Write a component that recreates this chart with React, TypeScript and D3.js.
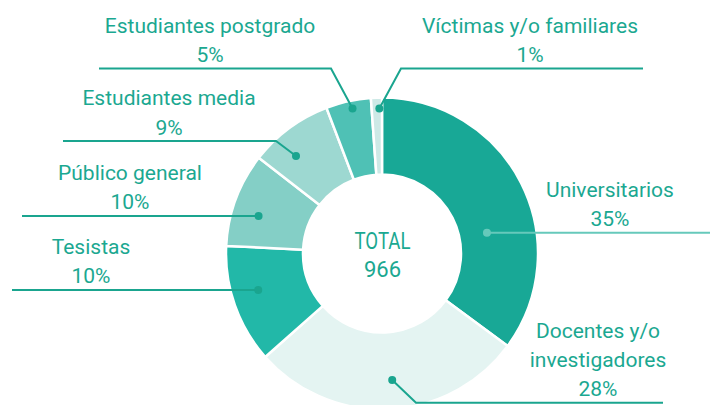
import React from "react";
import * as d3 from "d3";

const categories = [
  "Universitarios",
  "Docentes y/o investigadores",
  "Tesistas",
  "Público general",
  "Estudiantes media",
  "Estudiantes postgrado",
  "Víctimas y/o familiares",
];
const counts = [339, 274, 119, 94, 84, 45, 11];
const pctLabels = ["35%", "28%", "10%", "10%", "9%", "5%", "1%"];
const nameLines = [
  ["Universitarios"],
  ["Docentes y/o", "investigadores"],
  ["Tesistas"],
  ["Público general"],
  ["Estudiantes media"],
  ["Estudiantes postgrado"],
  ["Víctimas y/o familiares"],
];
const totalLabel = "966";

const colors = ["#18a896", "#e4f4f2", "#22b8a8", "#84cfc6", "#9dd8d1", "#4fc1b5", "#cde9e6"];
const textColor = "#1ba891";
const lineColor = "#1aa58f";

// layout per label: dot angle shift (deg), dot radius, elbow, line end, text center
const layout = [
  { shift: 15.6, r: 107, elbowY: null, endX: 710, textX: 610, color: "#66c9bb" },
  { shift: -2, r: 127, elbowY: 402.7, elbowX: 416, endX: 663, textX: 598, color: lineColor },
  { shift: 3, r: 129, elbowY: null, endX: 12, textX: 91, color: lineColor },
  { shift: -3.4, r: 129, elbowY: null, endX: 22, textX: 130, color: lineColor },
  { shift: -4.9, r: 130, elbowY: 141, elbowX: 276, endX: 63, textX: 169, color: lineColor },
  { shift: 1, r: 148, elbowY: 68.5, elbowX: 331, endX: 99, textX: 210, color: lineColor },
  { shift: 1, r: 145, elbowY: 68.5, elbowX: 401, endX: 643, textX: 530, color: lineColor },
];

export default function App() {
  const W = 710, H = 405;
  const cx = 382, cy = 253.5;
  const outerR = 156, innerR = 79;
  const pie = d3.pie<number>().sort(null).value((d) => d).startAngle(0).endAngle(2 * Math.PI);
  const arcs = pie(counts);
  const arc = d3.arc<d3.PieArcDatum<number>>().innerRadius(innerR).outerRadius(outerR);
  const font = "Roboto, 'Noto Sans', sans-serif";

  return (
    <svg width={W} height={H} style={{ position: "absolute", left: 0, top: 0 }}>
      <g transform={`translate(${cx},${cy})`}>
        {arcs.map((a, i) => (
          <path key={i} d={arc(a) || ""} fill={colors[i]} stroke="#fff" strokeWidth={2.5} />
        ))}
      </g>
      {arcs.map((a, i) => {
        const L = layout[i];
        const ang = (a.startAngle + a.endAngle) / 2 + (L.shift * Math.PI) / 180;
        const dx = cx + L.r * Math.sin(ang);
        const dy = cy - L.r * Math.cos(ang);
        const lineY = L.elbowY == null ? dy : L.elbowY;
        const pts: [number, number][] =
          L.elbowY == null
            ? [[dx, dy], [L.endX, dy]]
            : [[dx, dy], [L.elbowX as number, L.elbowY], [L.endX, L.elbowY]];
        const line = d3.line()(pts) || "";
        const names = nameLines[i];
        return (
          <g key={i}>
            <path d={line} fill="none" stroke={L.color} strokeWidth={2} />
            <circle cx={dx} cy={dy} r={4} fill={L.color} />
            <text
              x={L.textX}
              y={lineY - 6.5}
              textAnchor="middle"
              fontFamily={font}
              fontSize={21}
              fill={textColor}
            >
              {pctLabels[i]}
            </text>
            {names.map((n, k) => (
              <text
                key={k}
                x={L.textX}
                y={lineY - 36 - (names.length - 1 - k) * 28.7}
                textAnchor="middle"
                fontFamily={font}
                fontSize={21}
                fill={textColor}
              >
                {n}
              </text>
            ))}
          </g>
        );
      })}
      <text x={cx + 0.5} y={249.3} textAnchor="middle" fontFamily={font} fontSize={23} fill={textColor} textLength={56} lengthAdjust="spacingAndGlyphs">
        TOTAL
      </text>
      <text x={cx + 0.5} y={277.3} textAnchor="middle" fontFamily={font} fontSize={22} fill={textColor}>
        {totalLabel}
      </text>
    </svg>
  );
}
